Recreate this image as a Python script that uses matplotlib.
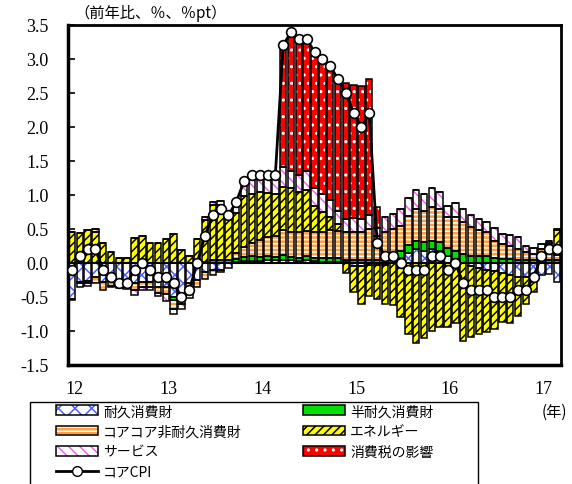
import numpy as np
import matplotlib.pyplot as plt
from matplotlib.patches import Patch, Rectangle
from matplotlib.lines import Line2D

plt.rcParams['font.family'] = ['Noto Sans CJK JP', 'DejaVu Sans']
plt.rcParams['hatch.linewidth'] = 1.1

# monthly contributions, Jan 2012 - Mar 2017 (%pt)
year_labels = ['12', '13', '14', '15', '16', '17']

durable = [-0.53, -0.28, -0.27, -0.20, -0.28, -0.27, -0.28, -0.30, -0.30, -0.28, -0.28, -0.35,
           -0.36, -0.50, -0.52, -0.30, -0.25, -0.13, -0.10, -0.10, -0.08, 0.02, 0.03, 0.03,
           0.03, 0.05, 0.05, 0.05, 0.04, 0.03, 0.04, 0.03, 0.02, 0.02, 0.02, 0.01,
           -0.04, -0.05, -0.03, -0.03, -0.03, 0.00, 0.08, 0.15, 0.20, 0.18, 0.20, 0.18,
           0.10, 0.06, 0.00, -0.05, -0.08, -0.10, -0.12, -0.15, -0.18, -0.20, -0.20, -0.20,
           -0.18, -0.16, -0.28]
semi_durable = [0.0, 0.0, 0.0, 0.0, 0.0, 0.0, 0.0, 0.0, 0.0, 0.0, 0.0, 0.0,
                0.0, -0.05, 0.0, 0.0, 0.01, 0.02, 0.04, 0.04, 0.04, 0.04, 0.06, 0.07,
                0.06, 0.05, 0.04, 0.07, 0.05, 0.05, 0.06, 0.05, 0.05, 0.06, 0.05, 0.04,
                0.04, 0.04, 0.05, 0.05, 0.05, 0.08, 0.10, 0.12, 0.13, 0.13, 0.13, 0.13,
                0.12, 0.12, 0.13, 0.10, 0.10, 0.10, 0.07, 0.06, 0.06, 0.05, 0.05, 0.05,
                0.05, 0.04, 0.04]
core_core = [-0.02, -0.02, -0.03, -0.10, -0.12, -0.07, -0.06, -0.05, -0.10, -0.08, -0.08, -0.09,
             -0.10, -0.12, -0.08, -0.15, -0.10, -0.10, -0.08, -0.03, 0.0, 0.08, 0.15, 0.20,
             0.25, 0.28, 0.30, 0.36, 0.37, 0.37, 0.37, 0.38, 0.38, 0.40, 0.40, 0.40,
             0.42, 0.42, 0.45, 0.35, 0.40, 0.42, 0.36, 0.42, 0.47, 0.45, 0.50, 0.48,
             0.45, 0.50, 0.47, 0.43, 0.38, 0.36, 0.26, 0.22, 0.19, 0.16, 0.11, 0.08,
             0.16, 0.10, 0.08]
energy = [0.46, 0.44, 0.49, 0.46, 0.30, 0.16, 0.07, 0.08, 0.37, 0.39, 0.30, 0.29,
          0.36, 0.43, 0.19, 0.11, 0.35, 0.61, 0.81, 0.82, 0.67, 0.59, 0.75, 0.72,
          0.70, 0.65, 0.63, 0.64, 0.64, 0.60, 0.60, 0.38, 0.30, 0.20, 0.10, -0.15,
          -0.38, -0.55, -0.45, -0.50, -0.58, -0.62, -0.79, -1.05, -1.17, -1.11, -1.00, -0.94,
          -0.94, -0.88, -1.14, -1.04, -0.96, -0.92, -0.85, -0.72, -0.70, -0.58, -0.40, -0.22,
          0.00, 0.15, 0.36]
services = [0.0, -0.05, -0.04, 0.04, 0.0, -0.02, -0.03, -0.03, -0.07, -0.03, -0.04, -0.05,
            -0.10, -0.08, -0.08, -0.06, 0.0, 0.04, 0.05, 0.05, 0.06, 0.15, 0.24, 0.28,
            0.26, 0.27, 0.28, 0.29, 0.25, 0.25, 0.28, 0.27, 0.26, 0.25, 0.20, 0.20,
            0.20, 0.18, 0.20, 0.12, 0.22, 0.22, 0.25, 0.26, 0.27, 0.25, 0.27, 0.25,
            0.17, 0.20, 0.20, 0.18, 0.17, 0.15, 0.19, 0.15, 0.16, 0.17, 0.09, 0.09,
            0.07, 0.04, 0.02]
tax = [0.0] * 27 + [1.80, 2.05, 2.00, 1.95, 2.00, 2.00, 1.97, 1.95, 2.00, 1.96, 1.96, 2.00, 0.30] + [0.0] * 23
core_cpi = [-0.1, 0.1, 0.2, 0.2, -0.1, -0.2, -0.3, -0.3, -0.1, 0.0, -0.1, -0.2,
            -0.2, -0.3, -0.5, -0.4, 0.0, 0.4, 0.7, 0.8, 0.7, 0.9, 1.2, 1.3,
            1.3, 1.3, 1.3, 3.2, 3.4, 3.3, 3.3, 3.1, 3.0, 2.9, 2.7, 2.5,
            2.2, 2.0, 2.2, 0.3, 0.1, 0.1, 0.0, -0.1, -0.1, -0.1, 0.1, 0.1,
            -0.1, 0.0, -0.3, -0.4, -0.4, -0.4, -0.5, -0.5, -0.5, -0.4, -0.4, -0.2,
            0.1, 0.2, 0.2]

months = np.arange(len(core_cpi))

# label, values, face colour, hatch colour, hatch
series = [
    ('耐久消費財', durable, 'white', '#4f5fff', 'xx'),
    ('半耐久消費財', semi_durable, '#00e000', None, None),
    ('コアコア非耐久消費財', core_core, '#ffa040', 'white', '----'),
    ('エネルギー', energy, '#ffff00', 'black', '////'),
    ('サービス', services, 'white', '#ee66ee', '\\\\\\'),
    ('消費税の影響', tax, '#ff0000', 'white', '..'),
]

fig = plt.figure(figsize=(5.72, 4.85), dpi=100)
ax = fig.add_axes([68 / 572, 1 - 366 / 485, 493 / 572, 340 / 485])

pos = np.zeros(len(months))
neg = np.zeros(len(months))
handles = {}
for label, vals, fc, hc, hatch in series:
    v = np.array(vals)
    bottom = np.where(v >= 0, pos, neg)
    if hatch:
        ax.bar(months, v, 0.82, bottom=bottom, color=fc, edgecolor=hc, hatch=hatch, linewidth=0, zorder=2)
        ax.bar(months, v, 0.82, bottom=bottom, fill=False, edgecolor='black', linewidth=1.1, zorder=3)
        handles[label] = (Patch(facecolor=fc, edgecolor=hc, hatch=hatch, linewidth=0),
                          Patch(fill=False, edgecolor='black', linewidth=1.1))
    else:
        ax.bar(months, v, 0.82, bottom=bottom, color=fc, edgecolor='black', linewidth=1.1, zorder=3)
        handles[label] = Patch(facecolor=fc, edgecolor='black', linewidth=1.1)
    pos += np.where(v > 0, v, 0)
    neg += np.where(v < 0, v, 0)

ax.axhline(0, color='black', linewidth=1.5, zorder=4)
ax.plot(months, core_cpi, color='black', linewidth=2, marker='o', markersize=7,
        markerfacecolor='white', markeredgecolor='black', markeredgewidth=1.2, zorder=5)
handles['コアCPI'] = Line2D([], [], color='black', linewidth=2, marker='o', markersize=7,
                          markerfacecolor='white', markeredgecolor='black')

ax.set_xlim(-0.5, 62.5)
ax.set_ylim(-1.5, 3.5)
yticks = np.arange(-1.5, 3.51, 0.5)
ax.set_yticks(yticks)
ax.set_yticklabels([f'{t:.1f}' for t in yticks])
ax.set_xticks(np.arange(0, 61, 12) + 0.3)
ax.set_xticklabels(year_labels)
for lbl in ax.get_xticklabels() + ax.get_yticklabels():
    lbl.set_fontfamily('Liberation Serif')
    lbl.set_fontsize(13)
ax.tick_params(axis='y', direction='in', length=5, width=1.2, pad=14)
ax.tick_params(axis='x', length=0, pad=11)
for side in ['left', 'bottom']:
    ax.spines[side].set_linewidth(2.5)
for side in ['top', 'right']:
    ax.spines[side].set_linewidth(2)

fig.text(74 / 572, 1 - 13 / 485, '（前年比、％、％pt）', fontsize=11, va='center', ha='left')
fig.text(554 / 572, 1 - 412 / 485, '(年)', fontsize=11, va='center', ha='center')

# legend: two columns, row-wise reading order
order = ['耐久消費財', 'コアコア非耐久消費財', 'サービス', 'コアCPI',
         '半耐久消費財', 'エネルギー', '消費税の影響']
leg = fig.legend([handles[k] for k in order], order, loc='upper left', ncol=2,
                 bbox_to_anchor=(56 / 572, 1 - 405 / 485),
                 fontsize=10, frameon=False, handlelength=3.0, handleheight=0.7,
                 labelspacing=0.45, borderaxespad=0, borderpad=0,
                 handletextpad=0.4, columnspacing=4.4)
fig.add_artist(Rectangle((30 / 572, -0.05), 448 / 572, (485 - 403) / 485 + 0.05,
                         transform=fig.transFigure, fill=False, edgecolor='black', linewidth=1))

fig.savefig('out.png', dpi=100)
